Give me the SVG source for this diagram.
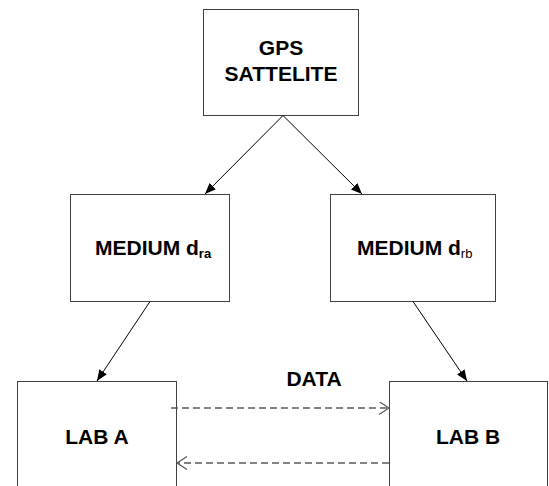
<svg xmlns="http://www.w3.org/2000/svg" width="549" height="486" viewBox="0 0 549 486">
<style>
.box{fill:#fff;stroke:#404040;stroke-width:1}
.lbl{font-family:"Liberation Sans",Arial,sans-serif;font-weight:bold;font-size:21px;fill:#000}
.sub{font-size:13px}
.solid{stroke:#000;stroke-width:1;fill:none}
.dash{stroke:#5a5a5a;stroke-width:1.3;fill:none;stroke-dasharray:7 4}
</style>
<defs>
<marker id="ah" markerUnits="userSpaceOnUse" markerWidth="12" markerHeight="10" refX="11" refY="4.5" orient="auto">
<path d="M0,0 L11,4.5 L0,9 z" fill="#000"/>
</marker>
<marker id="oh" markerUnits="userSpaceOnUse" markerWidth="12" markerHeight="14" refX="10" refY="6.5" orient="auto">
<path d="M0,0 L10,6.5 L0,13" fill="none" stroke="#5a5a5a" stroke-width="1.2"/>
</marker>
</defs>
<g id="gps">
<rect class="box" x="203.5" y="9.5" width="155" height="106"/>
<text class="lbl" x="281" y="55" text-anchor="middle">GPS</text>
<text class="lbl" x="281" y="81" text-anchor="middle">SATTELITE</text>
</g>
<g id="medium-ra">
<rect class="box" x="70.5" y="194.5" width="159" height="107"/>
<text class="lbl" x="95" y="255">MEDIUM d<tspan class="sub" dy="3">ra</tspan></text>
</g>
<g id="medium-rb">
<rect class="box" x="330.5" y="194.5" width="165" height="107"/>
<text class="lbl" x="357" y="255">MEDIUM d<tspan class="sub" dy="3" font-weight="normal">rb</tspan></text>
</g>
<g id="lab-a">
<rect class="box" x="17.5" y="381.5" width="159" height="130"/>
<text class="lbl" x="97" y="444" text-anchor="middle">LAB A</text>
</g>
<g id="lab-b">
<rect class="box" x="389.5" y="381.5" width="158" height="130"/>
<text class="lbl" x="468" y="444" text-anchor="middle">LAB B</text>
</g>
<g id="data-label">
<text class="lbl" x="314" y="386" text-anchor="middle">DATA</text>
</g>
<g id="connectors">
<line class="solid" x1="283" y1="115.5" x2="205" y2="194" marker-end="url(#ah)"/>
<line class="solid" x1="283" y1="115.5" x2="362" y2="194" marker-end="url(#ah)"/>
<line class="solid" x1="150" y1="301.5" x2="97" y2="381" marker-end="url(#ah)"/>
<line class="solid" x1="413" y1="301.5" x2="467" y2="381" marker-end="url(#ah)"/>
<line class="dash" x1="171" y1="408" x2="389" y2="408" marker-end="url(#oh)"/>
<line class="dash" x1="389" y1="463" x2="177" y2="463" marker-end="url(#oh)"/>
</g>
</svg>
